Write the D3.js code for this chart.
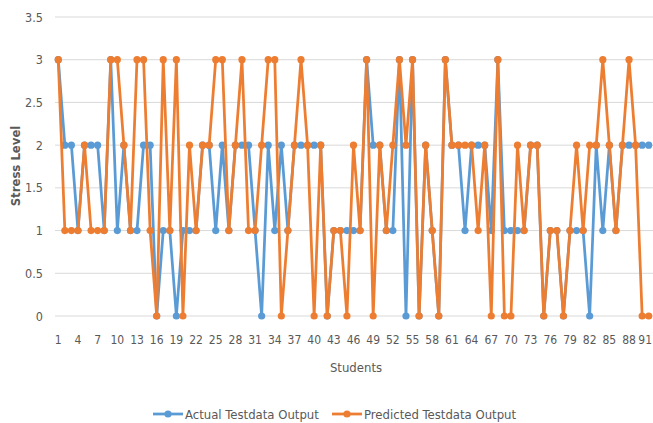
<!DOCTYPE html>
<html lang="en">
<head>
<meta charset="UTF-8">
<script src="https://d3js.org/d3.v7.min.js"></script>
<style>
    body { margin: 0; background: #fff; }
    text { font-family: "DejaVu Sans Condensed", "DejaVu Sans", sans-serif; font-stretch: condensed; fill: #595959; }
</style>
<title>Stress Level</title>
</head>
<body>
<script>

    var students = d3.range(1, 92);

    var actual = [3, 2, 2, 1, 2, 2, 2, 1, 3, 1,
                  2, 1, 1, 2, 2, 0, 1, 1, 0, 1,
                  1, 1, 2, 2, 1, 2, 1, 2, 2, 2,
                  1, 0, 2, 1, 2, 1, 2, 2, 2, 2,
                  2, 0, 1, 1, 1, 1, 1, 3, 2, 2,
                  1, 1, 3, 0, 3, 0, 2, 1, 0, 3,
                  2, 2, 1, 2, 2, 2, 1, 3, 1, 1,
                  1, 1, 2, 2, 0, 1, 1, 0, 1, 1,
                  1, 0, 2, 1, 2, 1, 2, 2, 2, 2,
                  2];

    var predicted = [3, 1, 1, 1, 2, 1, 1, 1, 3, 3,
                     2, 1, 3, 3, 1, 0, 3, 1, 3, 0,
                     2, 1, 2, 2, 3, 3, 1, 2, 3, 1,
                     1, 2, 3, 3, 0, 1, 2, 3, 2, 0,
                     2, 0, 1, 1, 0, 2, 1, 3, 0, 2,
                     1, 2, 3, 2, 3, 0, 2, 1, 0, 3,
                     2, 2, 2, 2, 1, 2, 0, 3, 0, 0,
                     2, 1, 2, 2, 0, 1, 1, 0, 1, 2,
                     1, 2, 2, 3, 2, 1, 2, 3, 2, 0,
                     0];

    var yTicks = [0, 0.5, 1, 1.5, 2, 2.5, 3, 3.5];
    var xTicks = students.filter(function (d) { return (d - 1) % 3 === 0; });

    var seriesNames = ["Actual Testdata Output", "Predicted Testdata Output"];
    var seriesColors = ["#5B9BD5", "#ED7D31"];

    var width = 653;
    var height = 423;

    var svg = d3.select("body").append("svg")
        .attr("width", width)
        .attr("height", height);

    var x = d3.scaleBand()
        .domain(students)
        .range([55, 652]);

    var y = d3.scaleLinear()
        .domain([0, 3.5])
        .range([316, 17]);

    function cx(d) {
        return x(d) + x.bandwidth() / 2;
    }

    // gridlines
    svg.append("g")
        .selectAll("line")
        .data(yTicks)
        .enter()
        .append("line")
        .attr("x1", 55)
        .attr("x2", 653)
        .attr("y1", function (d) { return y(d); })
        .attr("y2", function (d) { return y(d); })
        .attr("stroke", "#d9d9d9")
        .attr("stroke-width", 1);

    // y tick labels
    svg.append("g")
        .selectAll("text")
        .data(yTicks)
        .enter()
        .append("text")
        .attr("x", 43)
        .attr("y", function (d) { return y(d) + 4.5; })
        .attr("text-anchor", "end")
        .attr("font-size", "12.5px")
        .text(function (d) { return d; });

    // x tick labels
    svg.append("g")
        .selectAll("text")
        .data(xTicks)
        .enter()
        .append("text")
        .attr("x", function (d) { return cx(d); })
        .attr("y", 344)
        .attr("text-anchor", "middle")
        .attr("font-size", "12px")
        .text(function (d) { return d; })
        .each(function () {
            // keep the last label inside the picture
            var w = this.getComputedTextLength();
            var px = +this.getAttribute("x");
            if (px + w / 2 > width - 1) {
                this.setAttribute("x", width - 1 - w / 2);
            }
        });

    // axis titles
    svg.append("text")
        .attr("x", 356)
        .attr("y", 372)
        .attr("text-anchor", "middle")
        .attr("font-size", "13px")
        .text("Students");

    svg.append("text")
        .attr("transform", "translate(20,166) rotate(-90)")
        .attr("text-anchor", "middle")
        .attr("font-size", "13px")
        .attr("font-weight", "bold")
        .text("Stress Level");

    // series
    var allSeries = [actual, predicted];
    var line = d3.line()
        .x(function (d, i) { return cx(students[i]); })
        .y(function (d) { return y(d); });

    allSeries.forEach(function (values, s) {
        var g = svg.append("g");
        g.append("path")
            .datum(values)
            .attr("d", line)
            .attr("fill", "none")
            .attr("stroke", seriesColors[s])
            .attr("stroke-width", 2.75)
            .attr("stroke-linejoin", "round");

        g.selectAll("circle")
            .data(values)
            .enter()
            .append("circle")
            .attr("cx", function (d, i) { return cx(students[i]); })
            .attr("cy", function (d) { return y(d); })
            .attr("r", 3.6)
            .attr("fill", seriesColors[s]);
    });

    // legend
    var legendX = [153, 332];
    var legend = svg.append("g");
    seriesNames.forEach(function (name, s) {
        legend.append("line")
            .attr("x1", legendX[s])
            .attr("x2", legendX[s] + 30)
            .attr("y1", 414)
            .attr("y2", 414)
            .attr("stroke", seriesColors[s])
            .attr("stroke-width", 2.75);
        legend.append("circle")
            .attr("cx", legendX[s] + 15)
            .attr("cy", 414)
            .attr("r", 3.6)
            .attr("fill", seriesColors[s]);
        legend.append("text")
            .attr("x", legendX[s] + 32)
            .attr("y", 418.5)
            .attr("font-size", "13px")
            .text(name);
    });

</script>
</body>
</html>
